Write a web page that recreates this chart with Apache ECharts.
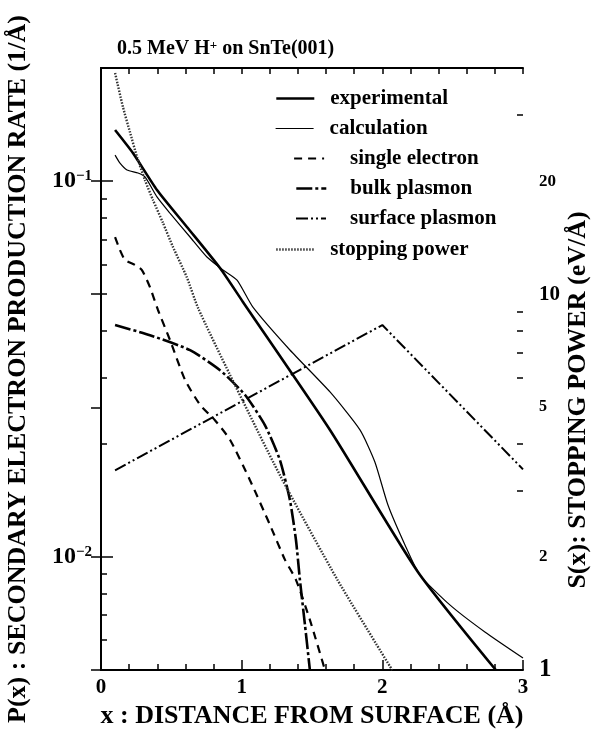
<!DOCTYPE html>
<html><head><meta charset="utf-8">
<script src="https://cdn.jsdelivr.net/npm/echarts@6/dist/echarts.min.js"></script>
<style>html,body{margin:0;padding:0;background:#fff}#c{width:600px;height:732px}</style>
</head><body><div id="c"></div>
<script>
// ---- data ----
const xExperimental = [0.10,0.227,0.398,0.611,0.846,1.009,1.628,2.253,2.807];
const pExperimental = [0.1368,0.1188,0.0947,0.0755,0.0587,0.0477,0.02177,0.00912,0.0050];
const xCalculation = [0.10,0.135,0.185,0.263,0.313,0.398,0.490,0.633,0.753,0.867,0.967,1.080,1.343,1.628,1.841,1.947,2.040,2.161,2.267,2.480,2.729,3.0];
const pCalculation = [0.1173,0.1117,0.1071,0.1051,0.1026,0.0908,0.0822,0.0710,0.0628,0.0580,0.0545,0.0462,0.03553,0.02747,0.02177,0.01789,0.01374,0.01076,0.00895,0.00745,0.00631,0.00538];
const xSingle = [0.10,0.135,0.171,0.242,0.291,0.348,0.405,0.490,0.597,0.704,0.810,0.917,1.059,1.201,1.308,1.386,1.485,1.592];
const pSingle = [0.0710,0.0655,0.0617,0.0598,0.0580,0.0522,0.0454,0.0378,0.0296,0.0254,0.0231,0.0205,0.0160,0.01217,0.00982,0.00869,0.00680,0.0050];
const xBulk = [0.10,0.348,0.633,0.846,1.023,1.166,1.272,1.343,1.386,1.414,1.450,1.485];
const pBulk = [0.0414,0.0389,0.0355,0.0314,0.0270,0.0224,0.0181,0.01417,0.01109,0.00869,0.00659,0.0050];
const xSurface = [0.10,2.0,3.0];
const pSurface = [0.0170,0.0414,0.0171];
const xStopping = [0.10,0.156,0.206,0.256,0.313,0.37,0.44,0.51,0.61,0.69,0.917,1.272,1.68,2.07];
const sStopping = [38.8,31.5,27.0,23.2,20.1,17.8,15.5,13.4,11.1,9.19,6.10,3.30,1.74,1.0];

const xRange = [0, 3];
const leftRange = [0.005, 0.2];
const rightRange = [1, 40];
const leftMajor = [0.01, 0.1];
const leftMinor = [0.006,0.007,0.008,0.009,0.02,0.03,0.04,0.05,0.06,0.07,0.08,0.09];
const rightMajor = [1, 2, 5, 10, 20];
const rightMinor = [3, 4, 6, 7, 8, 9, 30];
const seriesNames = ['experimental','calculation','single electron','bulk plasmon','surface plasmon','stopping power'];

// ---- chart ----
const F = 'Liberation Serif';
const pairs = (xs, ys) => xs.map((x, i) => [x, ys[i]]);
const chart = echarts.init(document.getElementById('c'), null, {renderer: 'canvas'});
const blackLine = {lineStyle: {color: '#000', width: 2}};
const styles = [
  {color: '#000', width: 2.6},
  {color: '#000', width: 1.2},
  {color: '#000', width: 2.2, type: [8, 6]},
  {color: '#000', width: 2.6, type: [16, 3, 3, 3]},
  {color: '#000', width: 2, type: [12, 3, 2, 3, 2, 3]},
  {color: '#333', width: 2.4, type: [1.5, 1.5]}
];
const legendRows = [
  {left: 275, top: 88, w: 38, pad: 11},
  {left: 275, top: 118, w: 38, pad: 11},
  {left: 293, top: 148, w: 30, pad: 21},
  {left: 295, top: 178, w: 30, pad: 19},
  {left: 295, top: 208, w: 30, pad: 19},
  {left: 275, top: 239, w: 38, pad: 11}
];
const rightSize = {1: 25, 2: 17, 5: 16, 10: 21, 20: 17};

const option = {
  backgroundColor: '#fff',
  animation: false,
  title: {
    text: '{a|0.5 MeV H}{s|+}{a| on SnTe(001)}',
    left: 112, top: 34,
    textStyle: {rich: {
      a: {fontFamily: F, fontWeight: 'bold', fontSize: 20, color: '#000'},
      s: {fontFamily: F, fontWeight: 'bold', fontSize: 13, color: '#000', verticalAlign: 'top'}
    }}
  },
  legend: legendRows.map((r, i) => ({
    data: [seriesNames[i]], left: r.left, top: r.top, itemWidth: r.w, itemHeight: 14,
    selectedMode: false, padding: 0, itemStyle: {opacity: 0},
    lineStyle: {width: styles[i].width},
    textStyle: {fontFamily: F, fontWeight: 'bold', fontSize: 21, color: '#000', padding: [0, 0, 0, r.pad]}
  })),
  grid: {left: 101, right: 77, top: 68, bottom: 62, containLabel: false, outerBoundsMode: 'none'},
  xAxis: [
    {type: 'value', position: 'bottom', min: xRange[0], max: xRange[1], interval: 1,
     splitLine: {show: false}, axisLine: blackLine,
     axisTick: {inside: true, length: 10, lineStyle: {color: '#000', width: 1.5}},
     axisLabel: {fontFamily: F, fontWeight: 'bold', fontSize: 21, color: '#000', margin: 7, showMinLabel: true, showMaxLabel: true},
     name: 'x : DISTANCE FROM SURFACE (Å)', nameLocation: 'middle', nameGap: 29,
     nameTextStyle: {fontFamily: F, fontWeight: 'bold', fontSize: 26, color: '#000'}},
    {type: 'value', position: 'bottom', min: xRange[0], max: xRange[1], interval: 0.2,
     splitLine: {show: false}, axisLine: {show: false},
     axisTick: {inside: true, length: 6, lineStyle: {color: '#000', width: 1.5}}, axisLabel: {show: false}},
    {type: 'value', position: 'top', min: xRange[0], max: xRange[1], interval: 0.2,
     splitLine: {show: false}, axisLine: blackLine,
     axisTick: {inside: true, length: 6, lineStyle: {color: '#000', width: 1.5}}, axisLabel: {show: false}}
  ],
  yAxis: [
    {type: 'log', logBase: 10, position: 'left', min: leftRange[0], max: leftRange[1],
     splitLine: {show: false}, axisLine: blackLine,
     axisTick: {inside: true, length: 12, customValues: leftMajor, lineStyle: {color: '#000', width: 1.5}},
     axisLabel: {customValues: leftMajor, margin: 9,
       formatter: v => '{b|10}{s|−' + Math.round(-Math.log10(v)) + '}',
       rich: {b: {fontFamily: F, fontWeight: 'bold', fontSize: 24, color: '#000'},
              s: {fontFamily: F, fontWeight: 'bold', fontSize: 15, color: '#000', verticalAlign: 'top'}}},
     name: 'P(x) : SECONDARY ELECTRON PRODUCTION RATE (1/Å)', nameLocation: 'middle', nameGap: 70, nameRotate: 90,
     nameTextStyle: {fontFamily: F, fontWeight: 'bold', fontSize: 26, color: '#000'}},
    {type: 'log', logBase: 10, position: 'left', min: leftRange[0], max: leftRange[1],
     splitLine: {show: false}, axisLine: {show: false},
     axisTick: {inside: true, length: 6, customValues: leftMinor, lineStyle: {color: '#000', width: 1.5}},
     axisLabel: {show: false}},
    {type: 'log', logBase: 10, position: 'right', min: rightRange[0], max: rightRange[1],
     splitLine: {show: false}, axisLine: blackLine,
     axisTick: {inside: true, length: 10, customValues: rightMajor, lineStyle: {color: '#000', width: 1.5}},
     axisLabel: {customValues: rightMajor, margin: 16,
       formatter: v => '{s' + Math.round(v) + '|' + Math.round(v) + '}',
       rich: Object.fromEntries(rightMajor.map(v => ['s' + v, {fontFamily: F, fontWeight: 'bold', fontSize: rightSize[v], color: '#000'}]))}},
    {type: 'log', logBase: 10, position: 'right', min: rightRange[0], max: rightRange[1],
     splitLine: {show: false}, axisLine: {show: false},
     axisTick: {inside: true, length: 6, customValues: rightMinor, lineStyle: {color: '#000', width: 1.5}},
     axisLabel: {show: false}}
  ],
  graphic: [{
    type: 'text', x: 578, y: 400, rotation: Math.PI / 2,
    style: {text: 'S(x): STOPPING POWER (eV/Å)', fontFamily: F, fontWeight: 'bold', fontSize: 26,
            fill: '#000', align: 'center', verticalAlign: 'middle'}
  }],
  series: [
    {name: seriesNames[0], type: 'line', symbol: 'none', smooth: 0.2, yAxisIndex: 0,
     data: pairs(xExperimental, pExperimental), lineStyle: styles[0]},
    {name: seriesNames[1], type: 'line', symbol: 'none', smooth: 0.2, yAxisIndex: 0,
     data: pairs(xCalculation, pCalculation), lineStyle: styles[1]},
    {name: seriesNames[2], type: 'line', symbol: 'none', smooth: 0.2, yAxisIndex: 0,
     data: pairs(xSingle, pSingle), lineStyle: styles[2]},
    {name: seriesNames[3], type: 'line', symbol: 'none', smooth: 0.2, yAxisIndex: 0,
     data: pairs(xBulk, pBulk), lineStyle: styles[3]},
    {name: seriesNames[4], type: 'line', symbol: 'none', yAxisIndex: 0,
     data: pairs(xSurface, pSurface), lineStyle: styles[4]},
    {name: seriesNames[5], type: 'line', symbol: 'none', smooth: 0.2, yAxisIndex: 2,
     data: pairs(xStopping, sStopping), lineStyle: styles[5]}
  ]
};
chart.setOption(option);
</script></body></html>
